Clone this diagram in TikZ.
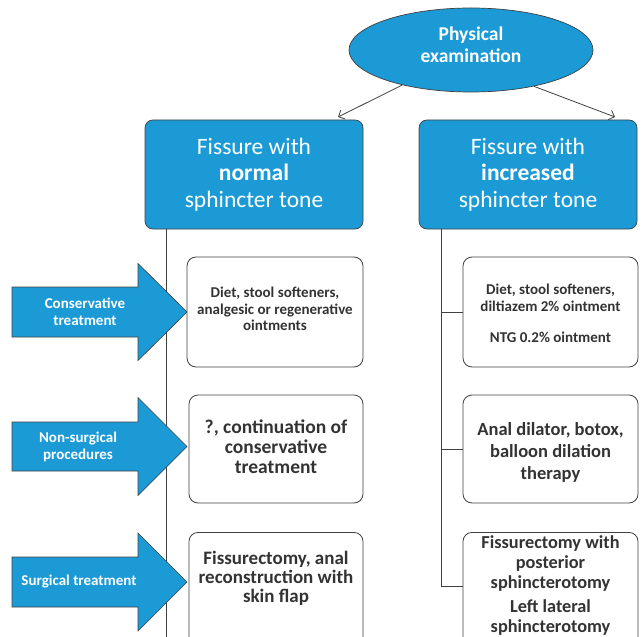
\documentclass[tikz,border=0pt]{standalone}
\usepackage{fontspec}
\setmainfont{Carlito}
\usetikzlibrary{shapes.geometric,arrows.meta}
\definecolor{fblue}{HTML}{1B9AD6}
\definecolor{lgray}{HTML}{404040}
\definecolor{tgray}{HTML}{333333}
\begin{document}
\begin{tikzpicture}[x=1pt,y=-1pt,
  bluebox/.style={draw=lgray, line width=0.7pt, fill=fblue, rounded corners=8pt,
    minimum width=218pt, minimum height=109pt, text=white, align=center,
    font=\fontsize{23.5}{26.5}\selectfont, inner sep=0pt},
  wbox/.style={draw=lgray, line width=0.8pt, fill=white, rounded corners=9pt, inner sep=0pt},
  wtext/.style={text=tgray, align=center, inner sep=0pt},
  link/.style={draw=lgray, line width=0.8pt},
  barrow/.style={draw=lgray, line width=0.6pt, fill=fblue},
  alabel/.style={text=white, align=center, inner sep=0pt, font=\bfseries\fontsize{15}{17}\selectfont}
]
\useasboundingbox (0,0) rectangle (644,636);
\clip (0,0) rectangle (644,636);

% top ellipse
\node[ellipse, draw=lgray, line width=0.7pt, fill=fblue, minimum width=244pt, minimum height=84pt,
  inner sep=0pt] (pe) at (471,50) {};
\node[text=white, align=center, inner sep=0pt, font=\bfseries\fontsize{19.5}{22}\selectfont]
  (pet) at (471,45) {Physical\\examination};

% level boxes
\node[bluebox] (lb) at (254,174.5) {Fissure with\\\textbf{normal}\\sphincter tone};
\node[bluebox] (rb) at (528,174.5) {Fissure with\\\textbf{increased}\\sphincter tone};

\coordinate (a1) at (338,117);
\coordinate (a2) at (615,117);
\draw[link,-{Straight Barb[length=5pt,width=10pt]}] (pe.207) -- (a1);
\draw[link,-{Straight Barb[length=5pt,width=10pt]}] (pe.330) -- (a2);

% left vertical line
\coordinate (lv) at (166,640);
\draw[link] (lb.south -| lv) -- (lv);

% white boxes, left column
\node[wbox, minimum width=176pt, minimum height=110pt] (l1) at (275,312) {};
\node[wtext, font=\bfseries\fontsize{15}{16.5}\selectfont] (l1t) at (275,309)
  {Diet, stool softeners,\\analgesic or regenerative\\ointments};
\node[wbox, minimum width=174pt, minimum height=108pt] (l2) at (276,449) {};
\node[wtext, font=\bfseries\fontsize{19.5}{20}\selectfont] (l2t) at (276,447)
  {?, continuation of\\conservative\\treatment};
\node[wbox, minimum width=174pt, minimum height=140pt, anchor=north] (l3) at (276,532) {};
\node[wtext, font=\bfseries\fontsize{19}{19}\selectfont] (l3t) at (276,578)
  {Fissurectomy, anal\\reconstruction with\\skin flap};

% white boxes, right column
\node[wbox, minimum width=175pt, minimum height=110pt] (r1) at (550.5,312) {};
\node[wtext, font=\bfseries\fontsize{15}{17}\selectfont] (r1t) at (550.5,313)
  {Diet, stool softeners,\\diltiazem 2\% ointment\\[14pt]NTG 0.2\% ointment};
\node[wbox, minimum width=175pt, minimum height=108pt] (r2) at (550.5,449) {};
\node[wtext, font=\bfseries\fontsize{18.5}{22}\selectfont] (r2t) at (550.5,452)
  {Anal dilator, botox,\\balloon dilation\\therapy};
\node[wbox, minimum width=175pt, minimum height=140pt, anchor=north] (r3) at (550.5,532) {};
\node[wtext, font=\bfseries\fontsize{18.3}{20}\selectfont, anchor=north] (r3t) at (550.5,535)
  {Fissurectomy with\\posterior\\sphincterotomy\\[4pt]Left lateral\\sphincterotomy};

% right tree
\coordinate (rv) at (441,586);
\draw[link] (rb.south -| rv) -- (rv) -- (rv -| r3.west);
\draw[link] (r1.west -| rv) -- (r1.west);
\draw[link] (r2.west -| rv) -- (r2.west);

% block arrows
\draw[barrow] (12,287) -- (138,287) -- (138,263.5) -- (187,312) -- (138,360.5) -- (138,337) -- (12,337) -- cycle;
\node[alabel] (c1) at (85,312) {Conservative\\treatment};
\draw[barrow] (12,422) -- (138,422) -- (138,397.5) -- (187,446.5) -- (138,495.5) -- (138,471) -- (12,471) -- cycle;
\node[alabel] (c2) at (78,446.5) {Non-surgical\\procedures};
\draw[barrow] (12,557) -- (138,557) -- (138,533) -- (187,582) -- (138,631) -- (138,607) -- (12,607) -- cycle;
\node[alabel] (c3) at (79,582) {Surgical treatment};
\end{tikzpicture}
\end{document}
